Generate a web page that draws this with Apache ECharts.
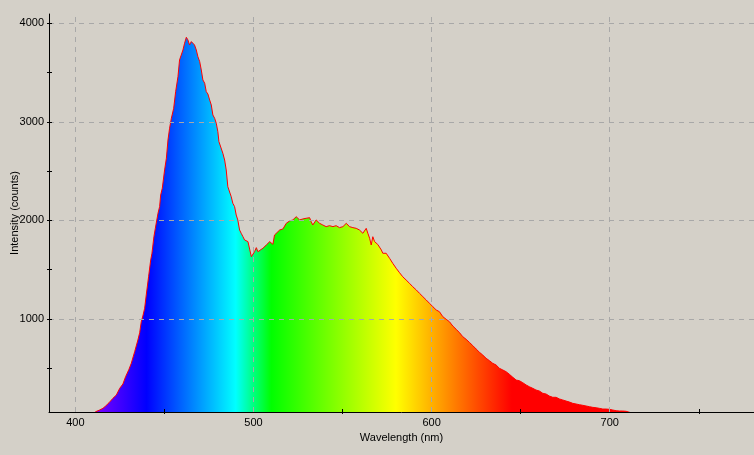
<!DOCTYPE html>
<html><head><meta charset="utf-8">
<script src="https://cdn.jsdelivr.net/npm/echarts@6/dist/echarts.min.js"></script>
<style>html,body{margin:0;padding:0;background:#d4d0c8;}#c{width:754px;height:455px;}</style>
</head><body><div id="c"></div>
<script>
// Wavelength (nm) and intensity (counts)
const wavelengths = [
385.2,410.0,
411.4,413.6,415.5,417.0,418.9,421.1,423.0,424.9,426.7,428.2,430.1,431.4,433.3,435.1,436.1,437.0,437.9,438.9,439.8,
441.1,442.3,443.0,444.1,444.9,446.4,447.3,447.9,448.8,450.1,451.1,452.0,452.9,453.9,455.2,456.3,457.6,458.5,459.5,
460.4,461.3,462.3,463.2,464.1,465.1,466.0,466.9,467.9,468.8,469.8,470.7,471.6,472.6,473.5,474.4,475.4,476.3,477.2,
478.2,479.1,480.0,480.6,481.5,482.8,483.8,484.7,485.6,486.6,487.5,488.4,489.4,490.3,491.2,492.2,493.1,494.1,495.0,
496.9,497.8,498.8,499.7,500.6,501.6,502.5,503.4,505.3,506.2,507.2,509.1,510.0,510.9,511.8,512.8,514.7,516.5,518.4,
520.3,522.1,524.0,525.9,527.7,529.6,531.5,532.4,533.3,535.2,537.1,538.9,540.8,542.7,544.6,546.4,548.3,550.2,552.1,
553.9,555.8,557.7,559.5,561.4,563.3,564.2,565.2,566.1,567.0,568.0,569.8,571.8,572.6,574.5,576.4,578.2,580.1,582.0,
583.8,585.7,587.6,589.4,591.4,593.2,595.1,597.0,598.8,600.7,602.6,604.4,606.3,608.2,610.0,611.9,613.8,615.7,617.5,
619.4,621.3,623.1,625.0,626.9,628.7,630.6,632.5,634.3,636.2,638.1,640.0,641.8,643.7,645.6,647.5,649.3,651.2,653.1,
654.9,656.8,658.6,660.5,662.4,664.3,666.1,668.0,669.9,671.8,673.6,675.5,677.4,679.2,681.1,683.0,684.8,686.7,688.6,
690.5,692.4,694.2,696.1,698.0,699.8,701.7,703.6,705.4,707.3,709.2,711.1,
713.0,781.0
];
const counts = [
40,40,
60,77,94,118,151,196,229,297,341,415,490,551,669,787,861,973,1031,1109,1244,
1429,1599,1667,1835,1920,2073,2140,2258,2326,2512,2631,2816,2935,3036,3138,3306,3458,3628,3628,
3729,3797,3858,3831,3780,3814,3831,3780,3729,3661,3611,3526,3425,3392,3306,3283,3222,3171,3070,
3036,2986,2900,2799,2783,2681,2613,2512,2342,2360,2241,2174,2140,2055,2005,1903,1870,1835,1802,
1785,1768,1632,1616,1683,1724,1683,1700,1718,1734,1751,1785,1802,1758,1852,1870,1903,1913,1971,
1995,2005,2038,2005,2015,2022,2028,1987,1954,2005,1971,1954,1937,1947,1937,1947,1927,1937,1971,
1937,1927,1920,1903,1870,1920,1870,1819,1751,1835,1785,1756,1700,1667,1667,1616,1565,1515,1470,
1429,1396,1362,1328,1295,1261,1227,1193,1160,1125,1092,1074,1024,997,973,929,896,861,821,
794,762,731,696,662,635,602,577,551,534,500,483,466,439,409,381,374,354,331,
313,297,280,270,247,239,219,206,206,189,179,168,158,145,138,131,125,118,111,
104,100,94,87,87,84,77,70,67,67,64,54,
40,40
];
const xLabelValues = [400, 500, 600, 700];
const xTickValues = [450, 550, 650, 750];
const yLabelValues = [1000, 2000, 3000, 4000];
const yTickValues = [500, 1000, 1500, 2000, 2500, 3000, 3500, 4000];

const X_MIN = 385.2, X_MAX = 781, Y_MIN = 57, Y_MAX = 4094;
const FONT = 'Liberation Sans';

// spectral colour stops (wavelength -> colour)
const spectrum = [
  [385.2, 'rgb(233,0,255)'], [440, '#0000ff'], [490, '#00ffff'],
  [510, '#00ff00'], [580, '#ffff00'], [645, '#ff0000'], [781, '#ff0000']
];
const stops = spectrum.map(s => ({ offset: (s[0] - X_MIN) / (X_MAX - X_MIN), color: s[1] }));

const seriesData = wavelengths.map((w, i) => [w, counts[i]]);
const plain = v => String(Math.round(v));

const chart = echarts.init(document.getElementById('c'), null, { renderer: 'canvas' });
const baseX = { type: 'value', min: X_MIN, max: X_MAX, gridIndex: 0, position: 'bottom', z: 10 };
const baseY = { type: 'value', min: Y_MIN, max: Y_MAX, gridIndex: 0, position: 'left', z: 10 };
chart.setOption({
  animation: false,
  backgroundColor: '#d4d0c8',
  textStyle: { fontFamily: FONT },
  grid: { left: 49, top: 14, right: 0, bottom: 43, containLabel: false, outerBoundsMode: 'none' },
  xAxis: [
    Object.assign({}, baseX, {
      name: 'Wavelength (nm)', nameLocation: 'middle', nameGap: 20, nameMoveOverlap: false,
      nameTextStyle: { color: '#000', fontSize: 11, fontFamily: FONT },
      axisLine: { show: true, onZero: false, lineStyle: { color: '#000', width: 1 } },
      axisTick: { show: true, inside: false, length: 2, customValues: xTickValues, lineStyle: { color: '#000' } },
      axisLabel: { show: true, customValues: xLabelValues, formatter: plain, color: '#000', fontSize: 11, fontFamily: FONT, margin: 5 },
      splitLine: { show: false }
    }),
    Object.assign({}, baseX, {
      axisLine: { show: false, onZero: false },
      axisTick: { show: true, inside: true, length: 3, customValues: xTickValues, lineStyle: { color: '#000' } },
      axisLabel: { show: false },
      splitLine: { show: false }
    })
  ],
  yAxis: [
    Object.assign({}, baseY, {
      name: 'Intensity (counts)', nameLocation: 'middle', nameGap: 29, nameRotate: 90, nameMoveOverlap: false,
      nameTextStyle: { color: '#000', fontSize: 11, fontFamily: FONT },
      axisLine: { show: true, onZero: false, lineStyle: { color: '#000', width: 1 } },
      axisTick: { show: true, inside: false, length: 2, customValues: yTickValues, lineStyle: { color: '#000' } },
      axisLabel: { show: true, customValues: yLabelValues, formatter: plain, color: '#000', fontSize: 11, fontFamily: FONT, margin: 5 },
      splitLine: { show: false }
    }),
    Object.assign({}, baseY, {
      axisLine: { show: false, onZero: false },
      axisTick: { show: true, inside: true, length: 3, customValues: yTickValues, lineStyle: { color: '#000' } },
      axisLabel: { show: false },
      splitLine: { show: false }
    })
  ],
  series: [{
    type: 'line',
    xAxisIndex: 0, yAxisIndex: 0,
    data: seriesData,
    showSymbol: false, symbol: 'none',
    clip: true,
    z: 2,
    lineStyle: { color: '#ff0000', width: 1 },
    areaStyle: {
      opacity: 1,
      color: new echarts.graphic.LinearGradient(0, 0, 1, 0, stops, false)
    },
    markLine: {
      silent: true, symbol: ['none', 'none'], animation: false,
      label: { show: false },
      emphasis: { disabled: true },
      lineStyle: { type: [5, 5], color: '#a8a8a8', width: 1 },
      data: xLabelValues.map(v => ({ xAxis: v })).concat(yLabelValues.map(v => ({ yAxis: v })))
    }
  }]
});
</script></body></html>
